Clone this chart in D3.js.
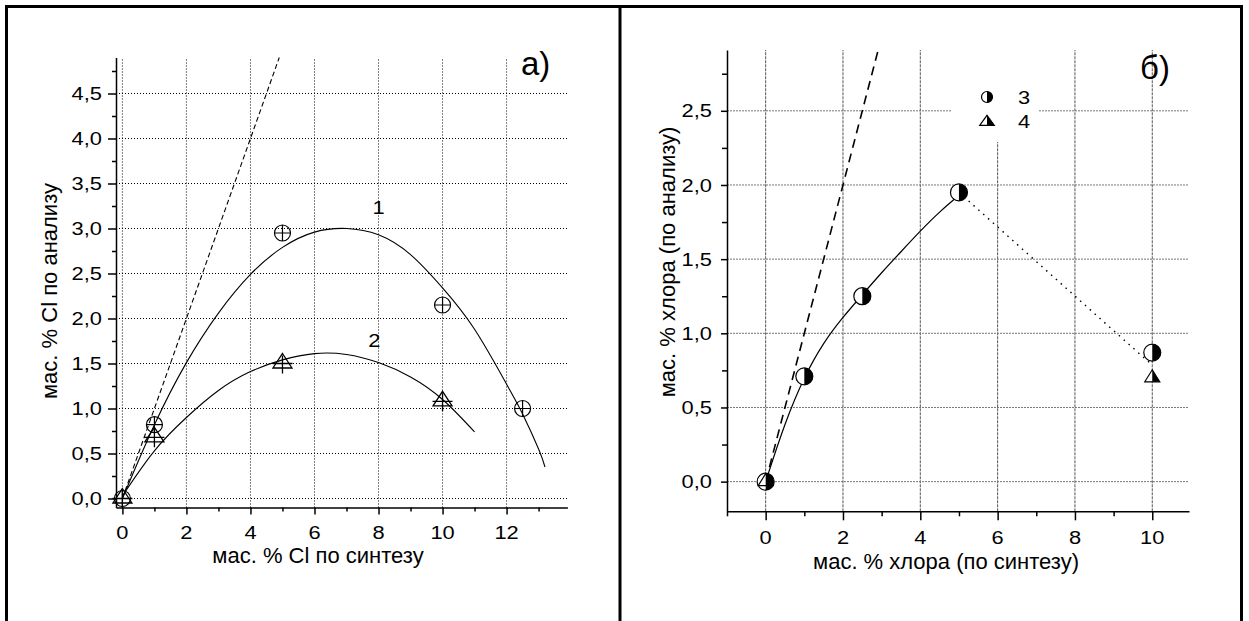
<!DOCTYPE html>
<html>
<head>
<meta charset="utf-8">
<script src="https://cdn.jsdelivr.net/npm/d3@7"></script>
<style>
  body { margin: 0; background: #fff; }
  svg { display: block; font-family: "Liberation Sans", Arial, sans-serif; }
</style>
</head>
<body>
<svg id="chart" width="1249" height="621"></svg>
<script>
// panel а): wt.% Cl by analysis vs. wt.% Cl by synthesis
var synthA1 = [0, 1, 5, 10, 12.5],
    analysisA1 = [0, 0.82, 2.95, 2.15, 1.0],
    synthA2 = [0, 1, 5, 10],
    analysisA2 = [0, 0.68, 1.5, 1.08];

// fitted curves 1 and 2
var fitA1X = [0, 1, 2, 3, 4, 5, 6, 7, 8, 9, 10, 11, 12, 12.5, 13, 13.2],
    fitA1Y = [0, 0.82, 1.51, 2.06, 2.49, 2.79, 2.96, 3.0, 2.93, 2.71, 2.34, 1.88, 1.27, 0.94, 0.55, 0.35],
    fitA2X = [0, 1, 2, 3, 4, 5, 6, 7, 8, 9, 10, 11],
    fitA2Y = [0.03, 0.53, 0.9, 1.2, 1.41, 1.54, 1.61, 1.6, 1.51, 1.35, 1.1, 0.74];

var diagAX = [0, 4.9],
    diagAY = [0, 4.9];

var xTicksA = [0, 2, 4, 6, 8, 10, 12],
    xMinorA = [1, 3, 5, 7, 9, 11, 13],
    yTicksA = [0, 0.5, 1, 1.5, 2, 2.5, 3, 3.5, 4, 4.5],
    yMinorA = [0.25, 0.75, 1.25, 1.75, 2.25, 2.75, 3.25, 3.75, 4.25, 4.75];

// panel б): wt.% chlorine by analysis vs. by synthesis
var synthB3 = [0, 1, 2.5, 5, 10],
    analysisB3 = [0, 0.71, 1.25, 1.95, 0.87],
    synthB4 = [0, 10],
    analysisB4 = [0, 0.7];

var fitBX = [0, 0.5, 1, 1.5, 2, 2.5, 3, 3.5, 4, 4.5, 5],
    fitBY = [0, 0.4, 0.71, 0.94, 1.11, 1.26, 1.41, 1.55, 1.69, 1.82, 1.93];

var dropBX = [5, 10],
    dropBY = [1.95, 0.785];

var diagBX = [0, 2.9],
    diagBY = [0, 2.9];

var xTicksB = [0, 2, 4, 6, 8, 10],
    xMinorB = [-1, 1, 3, 5, 7, 9],
    yTicksB = [0, 0.5, 1, 1.5, 2, 2.5],
    yMinorB = [0.25, 0.75, 1.25, 1.75, 2.25, 2.75];

var legendB = ["3", "4"];

var svg = d3.select("#chart"),
    comma = function (d) { return d3.format(".1f")(d).replace(".", ","); },
    stretch = 1.15;   // digits in the original are a little wide

// outer frame
svg.append("rect")
    .attr("x", 6.5).attr("y", 6.5)
    .attr("width", 1235).attr("height", 640)
    .attr("fill", "none").attr("stroke", "#000").attr("stroke-width", 3);
svg.append("line")
    .attr("x1", 620).attr("x2", 620).attr("y1", 6).attr("y2", 621)
    .attr("stroke", "#000").attr("stroke-width", 3);

function label(g, x, y, txt, anchor, dy) {
    return g.append("text")
        .attr("transform", "translate(" + x + "," + y + ") scale(" + stretch + ",1)")
        .attr("text-anchor", anchor).attr("dy", dy)
        .attr("fill", "#000").style("font-size", "19px")
        .text(txt);
}

function axes(g, x, y, o) {
    var x0 = x.range()[0], y0 = y.range()[0], blank = function () { return ""; };

    g.append("g").attr("transform", "translate(0," + y0 + ")")
        .call(d3.axisBottom(x).tickValues(o.xTicks).tickFormat(blank).tickSize(o.xMajor).tickSizeOuter(0));
    g.append("g").attr("transform", "translate(0," + y0 + ")")
        .call(d3.axisBottom(x).tickValues(o.xMinor).tickFormat(blank).tickSize(o.minor).tickSizeOuter(0))
        .call(function (s) { s.select(".domain").remove(); });
    g.append("g").attr("transform", "translate(" + x0 + ",0)")
        .call(d3.axisLeft(y).tickValues(o.yTicks).tickFormat(blank).tickSize(o.yMajor).tickSizeOuter(0));
    g.append("g").attr("transform", "translate(" + x0 + ",0)")
        .call(d3.axisLeft(y).tickValues(o.yMinor).tickFormat(blank).tickSize(o.minor).tickSizeOuter(0))
        .call(function (s) { s.select(".domain").remove(); });

    g.selectAll(".domain, .tick line").attr("stroke", "#000").attr("stroke-width", 1.5);

    o.xTicks.forEach(function (d) {
        label(g, x(d), y0 + o.xMajor + o.xPad, d3.format("d")(d), "middle", "0.71em");
    });
    o.yTicks.forEach(function (d) {
        label(g, x0 - o.yMajor - o.yPad, y(d), comma(d), "end", "0.35em");
    });
}

function grid(g, x, y, xt, yt, vStyle, hStyle) {
    g.append("g").selectAll("line").data(xt).join("line")
        .attr("x1", function (d) { return x(d); }).attr("x2", function (d) { return x(d); })
        .attr("y1", y.range()[0]).attr("y2", y.range()[1])
        .attr("stroke", vStyle[0]).attr("stroke-width", 1).attr("stroke-dasharray", vStyle[1]);
    g.append("g").selectAll("line").data(yt).join("line")
        .attr("x1", x.range()[0]).attr("x2", x.range()[1])
        .attr("y1", function (d) { return y(d); }).attr("y2", function (d) { return y(d); })
        .attr("stroke", hStyle[0]).attr("stroke-width", 1).attr("stroke-dasharray", hStyle[1]);
}

function path(g, x, y, xs, ys, curve) {
    return g.append("path")
        .datum(d3.zip(xs, ys))
        .attr("fill", "none").attr("stroke", "#000")
        .attr("d", d3.line().x(function (d) { return x(d[0]); }).y(function (d) { return y(d[1]); })
            .curve(curve || d3.curveLinear));
}

function place(g, x, y, xs, ys) {
    return g.append("g").selectAll("g").data(d3.zip(xs, ys)).join("g")
        .attr("transform", function (d) { return "translate(" + x(d[0]) + "," + y(d[1]) + ")"; });
}

// ---------- panel а ----------
var xA = d3.scaleLinear().domain([-0.2, 13.9]).range([116, 567.4]),
    yA = d3.scaleLinear().domain([-0.1, 4.9]).range([507.5, 57.5]),
    gA = svg.append("g");

grid(gA, xA, yA, xTicksA, yTicksA, ["#000", "1,2"], ["#000", "1,2"]);

path(gA, xA, yA, fitA1X, fitA1Y, d3.curveNatural).attr("stroke-width", 1.1);
path(gA, xA, yA, fitA2X, fitA2Y, d3.curveNatural).attr("stroke-width", 1.1);
path(gA, xA, yA, diagAX, diagAY).attr("stroke-width", 1.1).attr("stroke-dasharray", "5,3");

place(gA, xA, yA, synthA1, analysisA1).each(function () {
    var m = d3.select(this);
    m.append("circle").attr("r", 8).attr("fill", "none").attr("stroke", "#000").attr("stroke-width", 1.2);
    m.append("path").attr("d", "M-8,0H8M0,-8V8").attr("stroke", "#000").attr("stroke-width", 1.2);
});
place(gA, xA, yA, synthA2, analysisA2).each(function () {
    var m = d3.select(this);
    m.append("path").attr("d", "M0,-10L9.5,4.5L-9.5,4.5Z").attr("fill", "none")
        .attr("stroke", "#000").attr("stroke-width", 1.3);
    m.append("path").attr("d", "M-10,0H10M0,-8V10").attr("stroke", "#000").attr("stroke-width", 1.3);
});

axes(gA, xA, yA, {
    xTicks: xTicksA, xMinor: xMinorA, yTicks: yTicksA, yMinor: yMinorA,
    xMajor: 7, yMajor: 8, minor: 4, xPad: 11, yPad: 6
});

label(gA, xA(8), yA(3.23), "1", "middle", "0.35em");
label(gA, xA(7.87), yA(1.76), "2", "middle", "0.35em");
gA.append("text").attr("x", 521).attr("y", 75).style("font-size", "33px").text("а)");

gA.append("text").attr("x", 318).attr("y", 563).attr("text-anchor", "middle")
    .style("font-size", "22px").text("мас. % Cl по синтезу");
gA.append("text").attr("transform", "translate(57,291) rotate(-90)").attr("text-anchor", "middle")
    .style("font-size", "22px").text("мас. % Cl по анализу");

// ---------- panel б ----------
var xB = d3.scaleLinear().domain([-1, 10.95]).range([727, 1189]),
    yB = d3.scaleLinear().domain([-0.2, 2.91]).range([511.3, 50]),
    gB = svg.append("g");

grid(gB, xB, yB, xTicksB, yTicksB, ["#555", "3,1"], ["#777", "2,1"]);

// legend box hides the grid behind it
gB.append("rect").attr("x", 952).attr("y", 44).attr("width", 87).attr("height", 98).attr("fill", "#fff");

path(gB, xB, yB, fitBX, fitBY, d3.curveBasis).attr("stroke-width", 1.2);
path(gB, xB, yB, dropBX, dropBY).attr("stroke-width", 1.4).attr("stroke-dasharray", "1.5,5");
path(gB, xB, yB, diagBX, diagBY).attr("stroke-width", 1.6).attr("stroke-dasharray", "9,6");

function halfCircle(m, r) {
    m.append("circle").attr("r", r).attr("fill", "#fff").attr("stroke", "#000").attr("stroke-width", 1.2);
    m.append("path").attr("d", "M0," + (-r) + "A" + r + "," + r + " 0 0 1 0," + r + "Z").attr("fill", "#000");
}
function halfTriangle(m, w, up, down) {
    m.append("path").attr("d", "M0," + (-up) + "L" + w + "," + down + "L" + (-w) + "," + down + "Z")
        .attr("fill", "#fff").attr("stroke", "#000").attr("stroke-width", 1.2);
    m.append("path").attr("d", "M0," + (-up) + "L" + w + "," + down + "L0," + down + "Z").attr("fill", "#000");
}

place(gB, xB, yB, synthB3, analysisB3).each(function () { halfCircle(d3.select(this), 8.5); });
place(gB, xB, yB, synthB4, analysisB4).each(function () { halfTriangle(d3.select(this), 7.5, 8, 4); });

axes(gB, xB, yB, {
    xTicks: xTicksB, xMinor: xMinorB, yTicks: yTicksB, yMinor: yMinorB,
    xMajor: 9, yMajor: 6, minor: 5, xPad: 10, yPad: 9
});

var leg = gB.append("g").selectAll("g").data(legendB).join("g")
    .attr("transform", function (d, i) { return "translate(987," + (97 + i * 24) + ")"; });
leg.each(function (d, i) {
    var m = d3.select(this);
    if (i === 0) halfCircle(m, 5.5); else halfTriangle(m, 7.3, 5.7, 4.3);
    label(m, 31, 0, d, "start", "0.35em");
});

gB.append("text").attr("x", 1140).attr("y", 79).style("font-size", "33px").text("б)");

gB.append("text").attr("x", 946).attr("y", 569).attr("text-anchor", "middle")
    .style("font-size", "22px").text("мас. % хлора (по синтезу)");
gB.append("text").attr("transform", "translate(675,262) rotate(-90)").attr("text-anchor", "middle")
    .style("font-size", "22px").text("мас. % хлора (по анализу)");
</script>
</body>
</html>
